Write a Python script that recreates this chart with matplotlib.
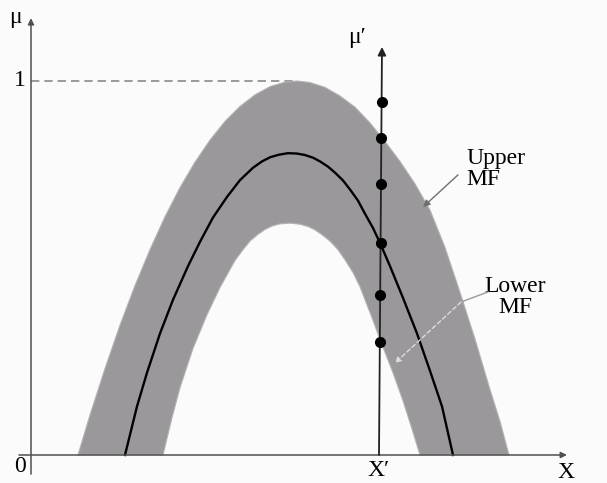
import numpy as np
import matplotlib
matplotlib.use("Agg")
import matplotlib.pyplot as plt

plt.rcParams['font.family'] = ['Liberation Serif', 'DejaVu Serif']

# ---- data (x in diagram units, membership in [0,1]) ----
upper_x = [78, 90, 105, 120, 135, 150, 165, 180, 195, 210, 225, 240, 255, 270, 285, 297,
           310, 325, 340, 355, 370, 385, 400, 415, 430, 445, 460, 475, 490, 500, 509]
upper_mu = [0.0, 0.107, 0.231, 0.347, 0.453, 0.549, 0.637, 0.715, 0.783, 0.842, 0.892, 0.932,
            0.963, 0.985, 0.997, 1.0,
            0.996, 0.983, 0.960, 0.930, 0.888, 0.838, 0.785, 0.725, 0.655, 0.555, 0.435,
            0.31, 0.175, 0.09, 0.0]

middle_x = [125, 137, 147, 160, 173, 188, 200, 213, 227, 240, 253, 262, 270, 279, 288,
            297, 305, 313, 320, 328, 335, 343, 350, 358, 365, 373, 380, 390, 403, 417,
            430, 442, 453]
middle_mu = [0.0, 0.13, 0.22, 0.325, 0.415, 0.505, 0.57, 0.635, 0.69, 0.735, 0.768, 0.785,
             0.796, 0.803, 0.807, 0.806, 0.802, 0.795, 0.785, 0.771, 0.755, 0.734, 0.71,
             0.68, 0.645, 0.607, 0.567, 0.505, 0.42, 0.325, 0.225, 0.13, 0.0]

lower_x = [163, 172, 180, 193, 207, 220, 235, 243, 250, 258, 265, 272, 280, 290, 300,
           308, 315, 322, 330, 338, 345, 353, 360, 373, 381, 393, 403, 412, 420]
lower_mu = [0.0, 0.10, 0.18, 0.285, 0.375, 0.448, 0.52, 0.549, 0.572, 0.590, 0.603, 0.612,
            0.618, 0.62, 0.617, 0.611, 0.602, 0.589, 0.572, 0.549, 0.522, 0.488, 0.45,
            0.36, 0.302, 0.22, 0.145, 0.07, 0.0]

xprime_mu_dots = [0.944, 0.848, 0.725, 0.567, 0.428, 0.302]

# ---- layout ----
W, H, DPI = 607, 483, 100
fig = plt.figure(figsize=(W / DPI, H / DPI), dpi=DPI)
fig.patch.set_facecolor('#fbfbfb')
ax = fig.add_axes([0, 0, 1, 1])
ax.set_facecolor('#fbfbfb')
px_per_unit = 374.0
y0_px = 28.0  # distance of mu=0 from bottom
ax.set_xlim(0, W)
ax.set_ylim(-y0_px / px_per_unit, (H - y0_px) / px_per_unit)
ax.axis('off')

fill_col = '#9b989c'
poly_x = list(upper_x) + list(lower_x[::-1])
poly_y = list(upper_mu) + list(lower_mu[::-1])
ax.fill(poly_x, poly_y, facecolor=fill_col, edgecolor='#b5b2b5', lw=0.8, zorder=2)

ax.plot(middle_x, middle_mu, color='black', lw=1.7, zorder=3, solid_joinstyle='round')

axis_col = '#505050'
origin_x = 31
# y axis
ax.annotate('', xy=(origin_x, 1.168), xytext=(origin_x, -0.051),
            arrowprops=dict(arrowstyle='-|>', color=axis_col, lw=1.1,
                            mutation_scale=9, shrinkA=0, shrinkB=0), zorder=4)
# x axis
ax.annotate('', xy=(567, 0), xytext=(19, 0),
            arrowprops=dict(arrowstyle='-|>', color=axis_col, lw=1.1,
                            mutation_scale=9, shrinkA=0, shrinkB=0), zorder=4)

# dashed line at mu = 1
ax.plot([origin_x, upper_x[int(np.argmax(upper_mu))]], [1, 1], color='#8a8a8a', lw=1.2,
        dashes=(5, 3), zorder=1)

# X' vertical line
xp_bottom, xp_top = 379, 382
mu_top = 1.091
ax.annotate('', xy=(xp_top, mu_top), xytext=(xp_bottom, 0),
            arrowprops=dict(arrowstyle='-|>', color='#222222', lw=1.3,
                            mutation_scale=12, shrinkA=0, shrinkB=0), zorder=5)
dots_x = np.interp(xprime_mu_dots, [0, mu_top], [xp_bottom, xp_top])
ax.plot(dots_x, xprime_mu_dots, 'o', color='black', ms=7, zorder=6)

# labels
fs = 17
ax.text(15, 1.171, '\u03bc', fontsize=fs, ha='center', va='center')
ax.text(20, 1.0, '1', fontsize=fs, ha='center', va='center')
ax.text(20, -0.03, '0', fontsize=fs, ha='center', va='center')
ax.text(379, -0.042, 'X\u2032', fontsize=fs, ha='center', va='center')
ax.text(566, -0.047, 'X', fontsize=fs, ha='center', va='center')
ax.text(357, 1.115, '\u03bc\u2032', fontsize=fs, ha='center', va='center')

ax.text(466, 0.822, 'Upper\nMF', fontsize=fs, ha='left', va='top', linespacing=1.0)
ax.text(515, 0.478, 'Lower\nMF', fontsize=fs, ha='center', va='top', linespacing=1.0,
        multialignment='center')

# Upper MF pointer
ax.annotate('', xy=(423, 0.663), xytext=(458, 0.749),
            arrowprops=dict(arrowstyle='-|>', color='#707070', lw=1.0,
                            mutation_scale=10, shrinkA=0, shrinkB=0), zorder=7)
# Lower MF pointer
ax.plot([488, 461], [0.436, 0.409], color='#9a9a9a', lw=1.0, zorder=7)
ax.annotate('', xy=(395, 0.246), xytext=(461, 0.409),
            arrowprops=dict(arrowstyle='-|>', color='#dcdcdc', lw=1.0, ls=(0, (3, 2)),
                            mutation_scale=8, shrinkA=0, shrinkB=0), zorder=7)

fig.savefig('out.png', dpi=DPI, facecolor=fig.get_facecolor())
